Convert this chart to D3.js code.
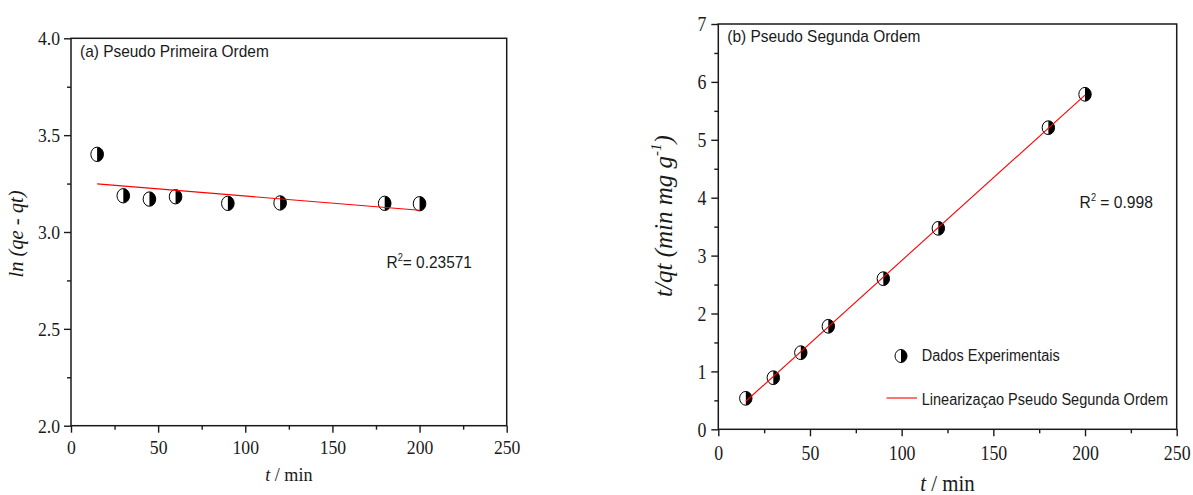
<!DOCTYPE html>
<html>
<head>
<meta charset="utf-8">
<script src="https://cdn.jsdelivr.net/npm/d3@7"></script>
<style>
  body { margin: 0; background: #fff; }
  svg { display: block; }
</style>
</head>
<body>
<svg id="chart" width="1193" height="495"></svg>
<script>
// Contact time (min)
const times = [15, 30, 45, 60, 90, 120, 180, 200];
// Pseudo first order: ln(qe - qt)
const lnQeQt = [3.401, 3.187, 3.170, 3.182, 3.148, 3.150, 3.148, 3.146];
// Pseudo second order: t/qt (min mg g^-1)
const tOverQt = [0.535, 0.891, 1.323, 1.779, 2.601, 3.471, 5.209, 5.786];

const xTicks = [0, 50, 100, 150, 200, 250];
const xMinorTicks = [25, 75, 125, 175, 225];
const lnTicks = [2.0, 2.5, 3.0, 3.5, 4.0];
const lnMinorTicks = [2.25, 2.75, 3.25, 3.75];
const tqtTicks = [0, 1, 2, 3, 4, 5, 6, 7];
const tqtMinorTicks = [0.5, 1.5, 2.5, 3.5, 4.5, 5.5, 6.5];

const r2First = "0.23571";
const r2Second = "0.998";

const svg = d3.select("#chart");
const SERIF = "'Liberation Serif', 'Times New Roman', serif";
const SANS = "'Liberation Sans', Arial, sans-serif";
const INK = "#1a1a1a";
const SANS_SX = 0.92;   // slightly condensed sans annotations

// ordinary least squares line through the measured points
function linearFit(xs, ys) {
  const mx = d3.mean(xs), my = d3.mean(ys);
  const sxy = d3.sum(xs, (v, i) => (v - mx) * (ys[i] - my));
  const sxx = d3.sum(xs, v => (v - mx) * (v - mx));
  const slope = sxy / sxx;
  return { slope, intercept: my - slope * mx };
}

// circle marker: left half white, right half black
function halfMarker(sel, rx, ry) {
  sel.append("ellipse").attr("rx", rx).attr("ry", ry)
    .attr("fill", "#fff").attr("stroke", "#000").attr("stroke-width", 1);
  sel.append("path")
    .attr("d", `M0,${-ry}A${rx},${ry} 0 0 1 0,${ry}Z`)
    .attr("fill", "#000");
}

// sans text anchored at (x, baseline), squeezed horizontally
function sansText(parent, x, y, size) {
  return parent.append("g")
    .attr("transform", `translate(${x},${y}) scale(${SANS_SX},1)`)
    .append("text")
    .attr("font-family", SANS).attr("font-size", size).attr("fill", INK);
}

function styleTickLines(g) {
  g.select(".domain").remove();
  g.selectAll(".tick line").attr("stroke", INK).attr("stroke-width", 1.4);
}

function drawPanel(p) {
  const x = d3.scaleLinear().domain([0, 250]).range([p.left, p.right]);
  const y = d3.scaleLinear().domain(p.yDomain).range([p.bottom, p.top]);
  const g = svg.append("g");

  // minor ticks
  g.append("g").attr("transform", `translate(0,${p.bottom})`)
    .call(d3.axisBottom(x).tickValues(xMinorTicks).tickSize(4).tickFormat(""))
    .call(styleTickLines);
  g.append("g").attr("transform", `translate(${p.left},0)`)
    .call(d3.axisLeft(y).tickValues(p.yMinor).tickSize(4).tickFormat(""))
    .call(styleTickLines);

  // major ticks with labels
  const xa = g.append("g").attr("transform", `translate(0,${p.bottom})`)
    .call(d3.axisBottom(x).tickValues(xTicks).tickSize(7).tickFormat(d3.format("d")))
    .call(styleTickLines);
  xa.selectAll("text")
    .attr("y", p.xLabelY).attr("dy", "0.71em")
    .attr("font-family", SERIF).attr("font-size", p.tickFont)
    .attr("fill", INK).attr("transform", `scale(${p.sx},1)`);

  const ya = g.append("g").attr("transform", `translate(${p.left},0)`)
    .call(d3.axisLeft(y).tickValues(p.yTicks).tickSize(7).tickFormat(p.yFormat))
    .call(styleTickLines);
  ya.selectAll("text")
    .attr("x", -p.yLabelGap / p.sx).attr("dy", "0.34em")
    .attr("font-family", SERIF).attr("font-size", p.tickFont)
    .attr("fill", INK).attr("transform", `scale(${p.sx},1)`);

  // frame
  g.append("rect")
    .attr("x", p.left).attr("y", p.top)
    .attr("width", p.right - p.left).attr("height", p.bottom - p.top)
    .attr("fill", "none").attr("stroke", INK).attr("stroke-width", 1.5);

  // data markers
  g.append("g").selectAll("g.pt")
    .data(p.values.map((v, i) => [times[i], v]))
    .join("g").attr("class", "pt")
    .attr("transform", d => `translate(${x(d[0])},${y(d[1])})`)
    .each(function () { halfMarker(d3.select(this), p.rx, p.ry); });

  // fitted line
  const fit = linearFit(times, p.values);
  const x0 = d3.min(times), x1 = d3.max(times);
  g.append("line")
    .attr("x1", x(x0)).attr("y1", y(fit.intercept + fit.slope * x0))
    .attr("x2", x(x1)).attr("y2", y(fit.intercept + fit.slope * x1))
    .attr("stroke", "#ff0000").attr("stroke-width", 1.1);

  // panel caption
  sansText(g, p.left + 9, p.captionY, 16.8).text(p.caption);

  // x axis title
  const xt = g.append("g")
    .attr("transform", `translate(${(p.left + p.right) / 2},${p.xTitleY}) scale(${p.sx},1)`)
    .append("text")
    .attr("text-anchor", "middle")
    .attr("font-family", SERIF).attr("font-size", p.xTitleFont).attr("fill", INK);
  xt.append("tspan").attr("font-style", "italic").text("t");
  xt.append("tspan").text(" / min");

  return { x, y, g };
}

// (a) pseudo first order
const a = drawPanel({
  left: 71, right: 506.7, top: 38.3, bottom: 425.7,
  yDomain: [2, 4], yTicks: lnTicks, yMinor: lnMinorTicks, yFormat: d3.format(".1f"),
  values: lnQeQt, rx: 6.3, ry: 7.2,
  tickFont: 19, sx: 0.93, xLabelY: 15, yLabelGap: 11,
  caption: "(a) Pseudo Primeira Ordem", captionY: 57,
  xTitleY: 481, xTitleFont: 19.5
});

const r2a = sansText(a.g, 386.5, 268, 16.8);
r2a.append("tspan").text("R");
r2a.append("tspan").attr("font-size", 10).attr("dy", -7).text("2");
r2a.append("tspan").attr("dy", 7).text("= " + r2First);

a.g.append("text")
  .attr("transform", "translate(23,234) rotate(-90)")
  .attr("text-anchor", "middle")
  .attr("font-family", SERIF).attr("font-style", "italic")
  .attr("font-size", 20.5).attr("fill", INK)
  .text("ln (qe - qt)");

// (b) pseudo second order
const b = drawPanel({
  left: 718.3, right: 1176.7, top: 24, bottom: 429.3,
  yDomain: [0, 7], yTicks: tqtTicks, yMinor: tqtMinorTicks, yFormat: d3.format("d"),
  values: tOverQt, rx: 6.2, ry: 6.9,
  tickFont: 20.5, sx: 0.87, xLabelY: 16, yLabelGap: 12,
  caption: "(b) Pseudo Segunda Ordem", captionY: 42,
  xTitleY: 491, xTitleFont: 24
});

const r2b = sansText(b.g, 1079.6, 208, 17);
r2b.append("tspan").text("R");
r2b.append("tspan").attr("font-size", 10).attr("dy", -7).text("2");
r2b.append("tspan").attr("dy", 7).text(" = " + r2Second);

const ytb = b.g.append("text")
  .attr("transform", "translate(672,216) rotate(-90)")
  .attr("text-anchor", "middle")
  .attr("font-family", SERIF).attr("font-style", "italic")
  .attr("font-size", 25).attr("fill", INK);
ytb.append("tspan").text("t/qt (min mg g");
ytb.append("tspan").attr("font-size", 15).attr("dy", -11).text("-1");
ytb.append("tspan").attr("dy", 11).text(")");

// legend
const leg = b.g.append("g");
halfMarker(leg.append("g").attr("transform", "translate(901,356)"), 6, 6.5);
sansText(leg, 921.7, 361, 15.8).text("Dados Experimentais");
leg.append("line")
  .attr("x1", 886.5).attr("x2", 917).attr("y1", 398).attr("y2", 398)
  .attr("stroke", "#ff0000").attr("stroke-width", 1.1);
sansText(leg, 921.7, 404.5, 15.8).text("Linearizaçao Pseudo Segunda Ordem");
</script>
</body>
</html>
